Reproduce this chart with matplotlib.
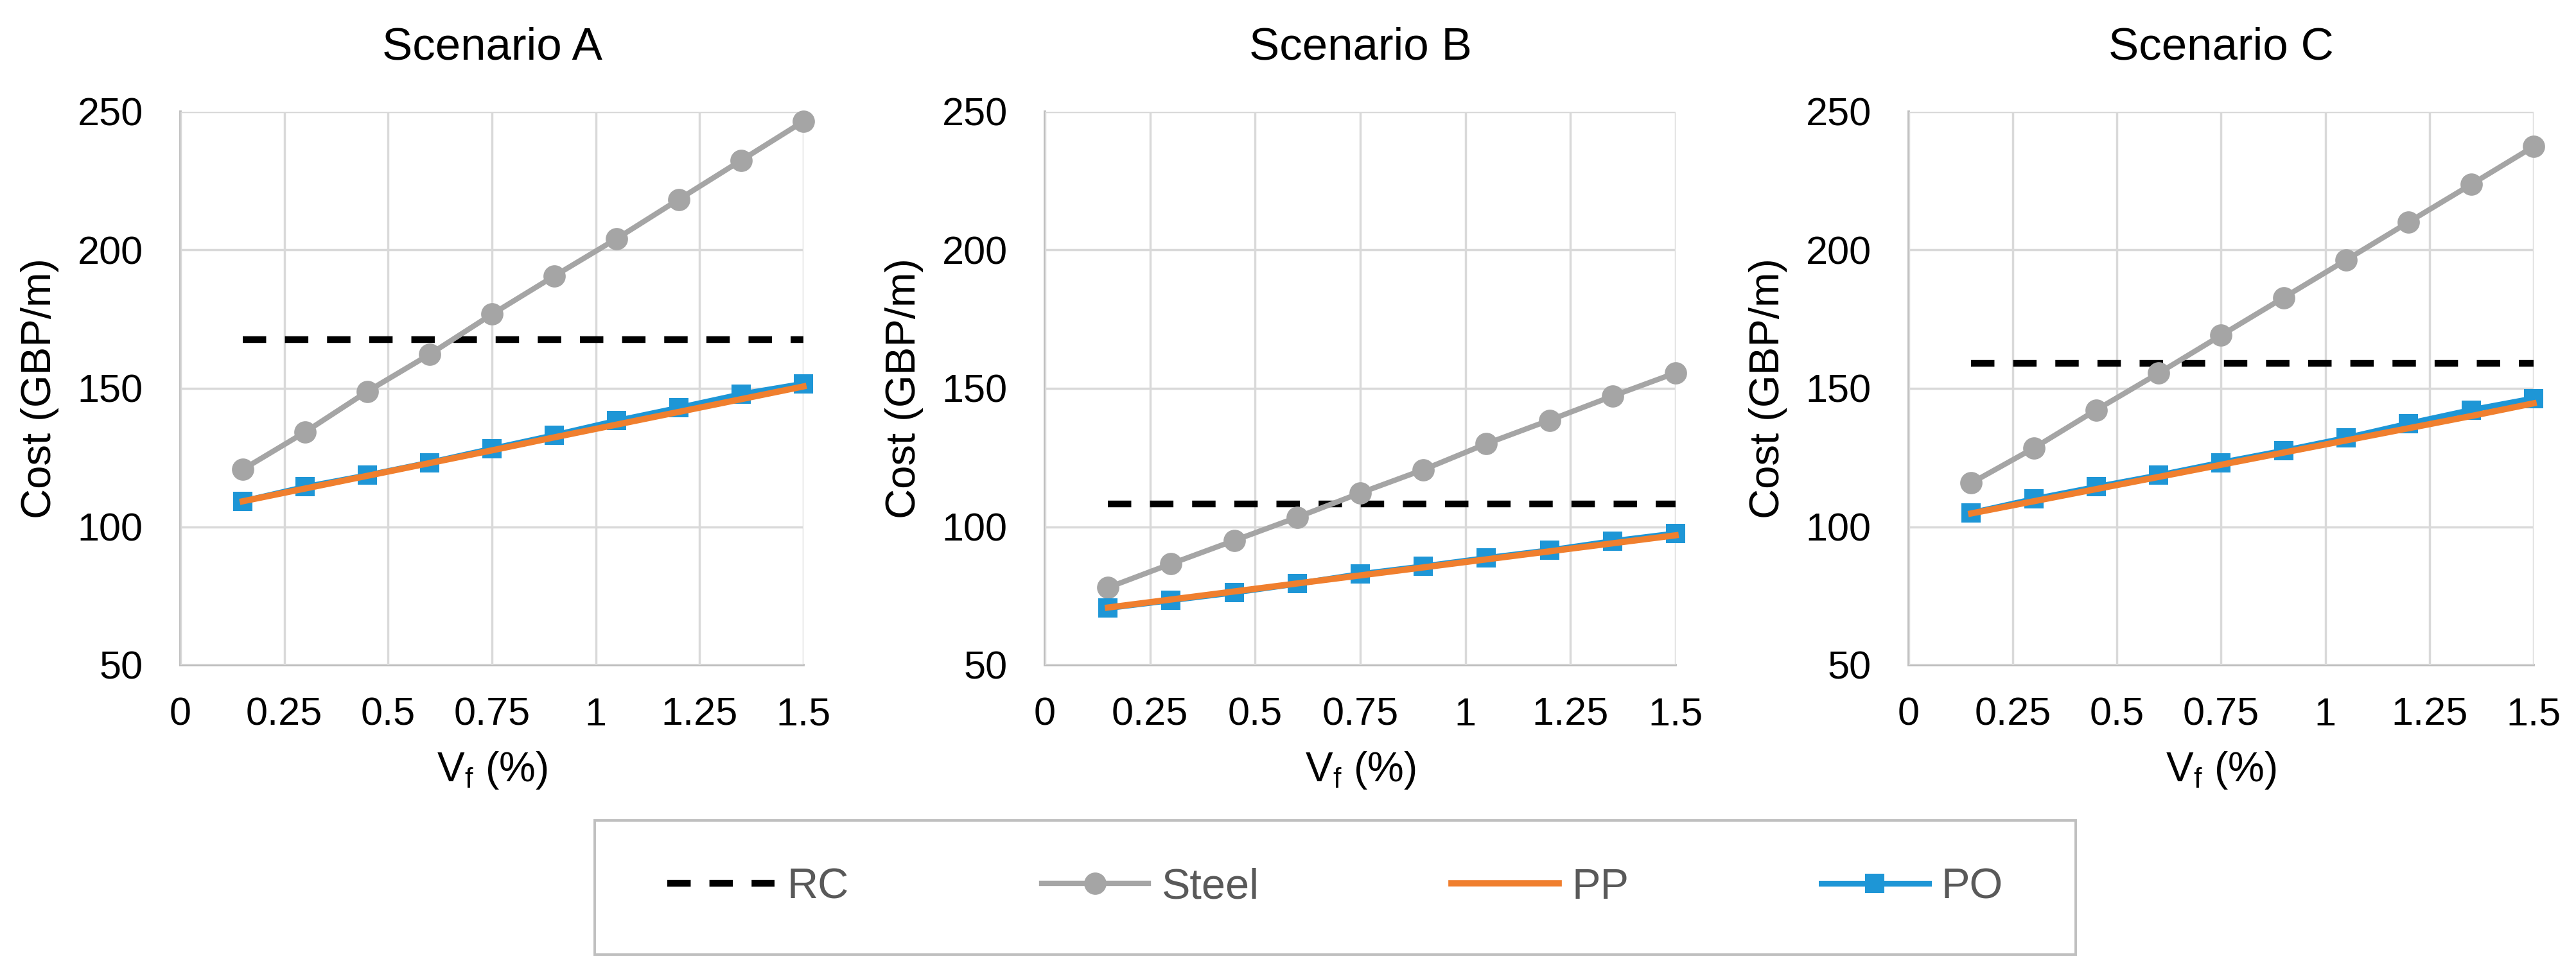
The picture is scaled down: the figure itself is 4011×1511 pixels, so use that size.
import matplotlib
matplotlib.use("Agg")
import matplotlib.pyplot as plt
from matplotlib.patches import Rectangle
from matplotlib.lines import Line2D

plt.rcParams['font.family'] = ['Liberation Sans', 'DejaVu Sans']
plt.rcParams['mathtext.fontset'] = 'custom'
plt.rcParams['mathtext.rm'] = 'Liberation Sans'

# ---------------- data ----------------
vf = [0.15, 0.30, 0.45, 0.60, 0.75, 0.90, 1.05, 1.20, 1.35, 1.50]

scenarios = ["Scenario A", "Scenario B", "Scenario C"]

rc_A = 167.6
steel_A = [120.7, 134.2, 148.9, 162.3, 176.8, 190.6, 204.1, 218.3, 232.4, 246.5]
pp_A = [109.2, 113.8, 118.4, 123.0, 127.6, 132.3, 136.9, 141.5, 146.1, 150.7]
po_A = [109.2, 114.4, 118.6, 123.2, 128.2, 133.1, 138.3, 143.0, 147.9, 151.7]

rc_B = 108.3
steel_B = [78.0, 86.6, 95.0, 103.4, 112.2, 120.6, 130.0, 138.5, 147.2, 155.6]
pp_B = [70.8, 73.7, 76.6, 79.5, 82.4, 85.3, 88.2, 91.1, 94.0, 96.9]
po_B = [70.6, 73.4, 76.2, 79.4, 82.9, 85.7, 88.7, 91.5, 94.8, 97.6]

rc_C = 159.0
steel_C = [115.8, 128.4, 142.2, 155.5, 169.2, 182.8, 196.4, 210.1, 223.7, 237.4]
pp_C = [104.8, 109.2, 113.6, 118.0, 122.4, 126.8, 131.2, 135.6, 140.0, 144.6]
po_C = [105.0, 110.0, 114.4, 118.6, 123.2, 127.5, 132.1, 137.3, 142.2, 146.4]

rc_vals = [rc_A, rc_B, rc_C]
steel_vals = [steel_A, steel_B, steel_C]
pp_vals = [pp_A, pp_B, pp_C]
po_vals = [po_A, po_B, po_C]

x_ticks = [0, 0.25, 0.5, 0.75, 1, 1.25, 1.5]
x_ticklabels = ["0", "0.25", "0.5", "0.75", "1", "1.25", "1.5"]
y_ticks = [50, 100, 150, 200, 250]
y_ticklabels = ["50", "100", "150", "200", "250"]

series_names = ["RC", "Steel", "PP", "PO"]

# ---------------- style ----------------
W, H = 4012, 1511
DPI = 100
c_rc = "#000000"
c_steel = "#A5A5A5"
c_pp = "#F07F2E"
c_po = "#1E96D6"
c_grid = "#D9D9D9"
c_spine = "#BFBFBF"

fig = plt.figure(figsize=(W / DPI, H / DPI), dpi=DPI)

# axes rectangles in pixels: (left, right)
ax_px = [(281, 1251), (1627, 2609), (2972, 3945)]
top_px, bot_px = 174, 1036

rc_dash = (3.5, 2.8)

for i, (l, r) in enumerate(ax_px):
    ax = fig.add_axes([l / W, 1 - bot_px / H, (r - l) / W, (bot_px - top_px) / H])
    ax.set_xlim(0, 1.5)
    ax.set_ylim(50, 250)
    ax.set_xticks(x_ticks)
    ax.set_xticklabels(x_ticklabels)
    ax.set_yticks(y_ticks)
    ax.set_yticklabels(y_ticklabels)
    ax.grid(True, color=c_grid, linewidth=2.5, zorder=0)
    ax.set_axisbelow(True)
    for s in ["top", "right"]:
        ax.spines[s].set_visible(False)
    for s in ["left", "bottom"]:
        ax.spines[s].set_color(c_spine)
        ax.spines[s].set_linewidth(2.8)
        ax.spines[s].set_zorder(0.5)
    ax.tick_params(axis="both", length=0, labelsize=44, colors="black")
    ax.tick_params(axis="x", pad=36)
    ax.tick_params(axis="y", pad=42)

    ax.plot([vf[0], vf[-1]], [rc_vals[i], rc_vals[i]], color=c_rc, linewidth=7.5,
            dashes=rc_dash, zorder=3, clip_on=False)
    ax.plot(vf, steel_vals[i], color=c_steel, linewidth=6, marker="o",
            markersize=25, markeredgewidth=0, zorder=4, clip_on=False)
    ax.plot(vf, po_vals[i], color=c_po, linewidth=6.5, marker="s",
            markersize=21, markeredgewidth=0, zorder=5, clip_on=False)
    ax.plot(vf, pp_vals[i], color=c_pp, linewidth=7, zorder=6, clip_on=False)

    ax.set_title(scenarios[i], fontsize=51, pad=59, color="black")
    ax.set_ylabel("Cost (GBP/m)", fontsize=47)
    ax.yaxis.set_label_coords(-189 / (r - l), 0.5)
    ax.set_xlabel("V$_\\mathregular{f}$ (%)", fontsize=46)
    ax.xaxis.set_label_coords(0.5, -(1168 - bot_px) / (bot_px - top_px))

# legend frame
lx0, lx1, ly0, ly1 = 926, 3232, 1278, 1487
fig.patches.append(Rectangle((lx0 / W, 1 - ly1 / H), (lx1 - lx0) / W, (ly1 - ly0) / H,
                             transform=fig.transFigure, facecolor="white",
                             edgecolor=c_spine, linewidth=2.8, zorder=0))

handles = [
    Line2D([], [], color=c_rc, linewidth=7.5, dashes=rc_dash),
    Line2D([], [], color=c_steel, linewidth=6, marker="o", markersize=25, markeredgewidth=0),
    Line2D([], [], color=c_pp, linewidth=7),
    Line2D([], [], color=c_po, linewidth=6.5, marker="s", markersize=21, markeredgewidth=0),
]
leg = fig.legend(handles, series_names, loc="center",
                 bbox_to_anchor=((lx0 + lx1) / 2 / W, 1 - (ly0 + ly1) / 2 / H),
                 ncol=4, frameon=False, fontsize=48, handlelength=2.5,
                 handletextpad=0.3, columnspacing=4.5, labelcolor="#595959",
                 borderpad=0, numpoints=1)

fig.savefig("out.png", dpi=DPI)
